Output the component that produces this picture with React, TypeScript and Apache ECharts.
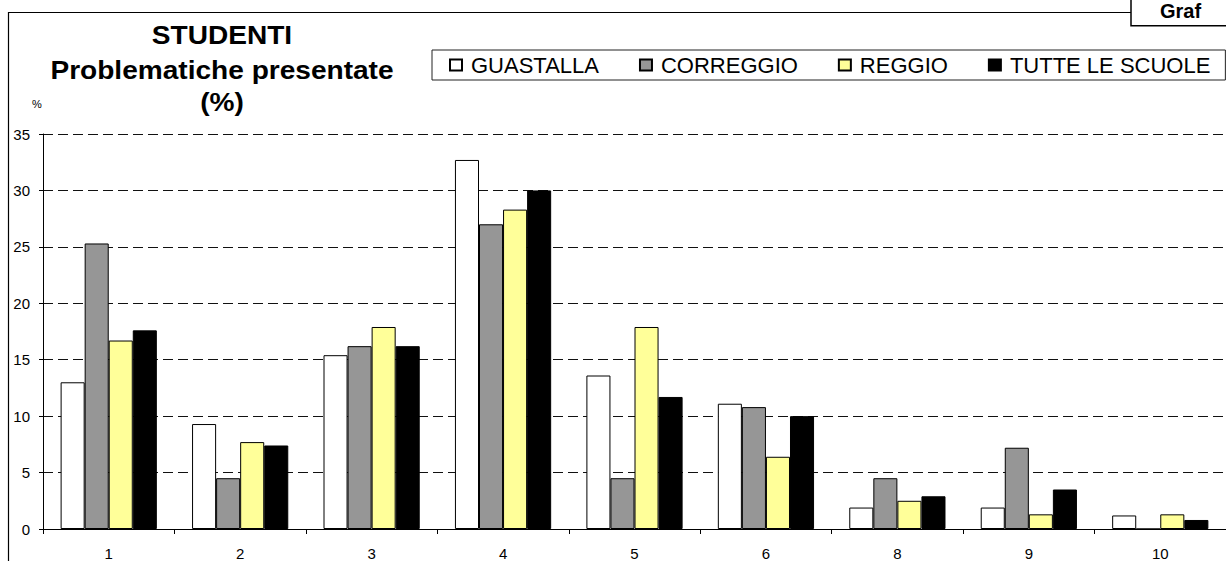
import React, { useEffect, useRef } from "react";
import * as echarts from "echarts";

const categories = ["1", "2", "3", "4", "5", "6", "8", "9", "10"];
const seriesNames = ["GUASTALLA", "CORREGGIO", "REGGIO", "TUTTE LE SCUOLE"];
const guastalla = [13.0, 9.3, 15.4, 32.7, 13.6, 11.1, 1.9, 1.9, 1.2];
const correggio = [25.3, 4.5, 16.2, 27.0, 4.5, 10.8, 4.5, 7.2, 0];
const reggio = [16.7, 7.7, 17.9, 28.3, 17.9, 6.4, 2.5, 1.3, 1.3];
const tutte = [17.6, 7.4, 16.2, 30.0, 11.7, 10.0, 2.9, 3.5, 0.8];
const colors = ["#FFFFFF", "#969696", "#FFFF99", "#000000"];
const titleLines = ["STUDENTI", "Problematiche presentate", "(%)"];
const yTicks = { min: 0, max: 35, interval: 5 };

const FONT = '"Liberation Sans", Arial, sans-serif';

export default function App() {
  const ref = useRef<HTMLDivElement>(null);
  useEffect(() => {
    if (!ref.current) return;
    const chart = echarts.init(ref.current, null, { renderer: "svg" });
    const data = [guastalla, correggio, reggio, tutte];
    const titleY = [35, 70, 102];
    const option: any = {
      animation: false,
      backgroundColor: "#FFFFFF",
      textStyle: { fontFamily: FONT, color: "#000" },
      grid: { left: 43, top: 134, width: 1194, bottom: 32 },
      legend: {
        left: 432,
        top: 50,
        width: 1000,
        orient: "horizontal",
        padding: [4, 15, 4, 17],
        borderColor: "#222",
        borderWidth: 1,
        itemWidth: 12,
        itemHeight: 11,
        itemGap: 40,
        icon: "rect",
        data: seriesNames,
        textStyle: {
          fontFamily: FONT,
          fontSize: 22,
          color: "#000",
          lineHeight: 22,
          padding: [0, 0, 0, 4],
        },
      },
      xAxis: {
        type: "category",
        data: categories,
        boundaryGap: true,
        axisLine: { show: true, lineStyle: { color: "#000", width: 1 } },
        axisTick: { show: true, length: 5, alignWithLabel: false, lineStyle: { color: "#000" } },
        axisLabel: { color: "#000", fontSize: 15, fontFamily: FONT, margin: 17 },
        splitLine: { show: false },
      },
      yAxis: {
        type: "value",
        min: yTicks.min,
        max: yTicks.max,
        interval: yTicks.interval,
        axisLine: { show: true, lineStyle: { color: "#000", width: 1 } },
        axisTick: { show: true, length: 4, lineStyle: { color: "#000" } },
        axisLabel: { color: "#000", fontSize: 15, fontFamily: FONT, margin: 13 },
        splitLine: { show: true, lineStyle: { color: "#111", width: 1, type: [10, 5] } },
      },
      series: seriesNames.map((name, i) => ({
        name,
        type: "bar",
        data: data[i],
        barGap: "0%",
        barCategoryGap: "26.8%",
        itemStyle: { color: colors[i], borderColor: "#000", borderWidth: 1 },
        emphasis: { disabled: true },
      })),
      graphic: [
        {
          type: "rect",
          z: -1,
          shape: { x: 8.5, y: 12.5, width: 1400, height: 700 },
          style: { fill: "none", stroke: "#000", lineWidth: 1.2 },
          silent: true,
        },
        {
          type: "rect",
          z: 10,
          shape: { x: 1131, y: -10, width: 200, height: 35.7 },
          style: { fill: "#FFFFFF", stroke: "#000", lineWidth: 1.5 },
          silent: true,
        },
        {
          type: "text",
          z: 11,
          x: 1160,
          y: 1,
          style: {
            text: "Graf",
            font: `bold 20px ${FONT}`,
            fill: "#000",
            align: "left",
            textAlign: "left",
            verticalAlign: "top",
            textVerticalAlign: "top",
          },
          silent: true,
        },
        ...titleLines.map((t, i) => ({
          type: "text",
          x: 222,
          y: titleY[i],
          scaleX: 1.08,
          style: {
            text: t,
            font: `bold 26px ${FONT}`,
            fill: "#000",
            align: "center",
            textAlign: "center",
            verticalAlign: "middle",
            textVerticalAlign: "middle",
          },
          silent: true,
        })),
        {
          type: "text",
          x: 37,
          y: 104,
          style: {
            text: "%",
            font: `11px ${FONT}`,
            fill: "#000",
            align: "center",
            textAlign: "center",
            verticalAlign: "middle",
            textVerticalAlign: "middle",
          },
          silent: true,
        },
      ],
    };
    chart.setOption(option);
    return () => chart.dispose();
  }, []);
  return (
    <div
      ref={ref}
      style={{ position: "fixed", left: 0, top: 0, width: 1226, height: 561, overflow: "hidden" }}
    />
  );
}
